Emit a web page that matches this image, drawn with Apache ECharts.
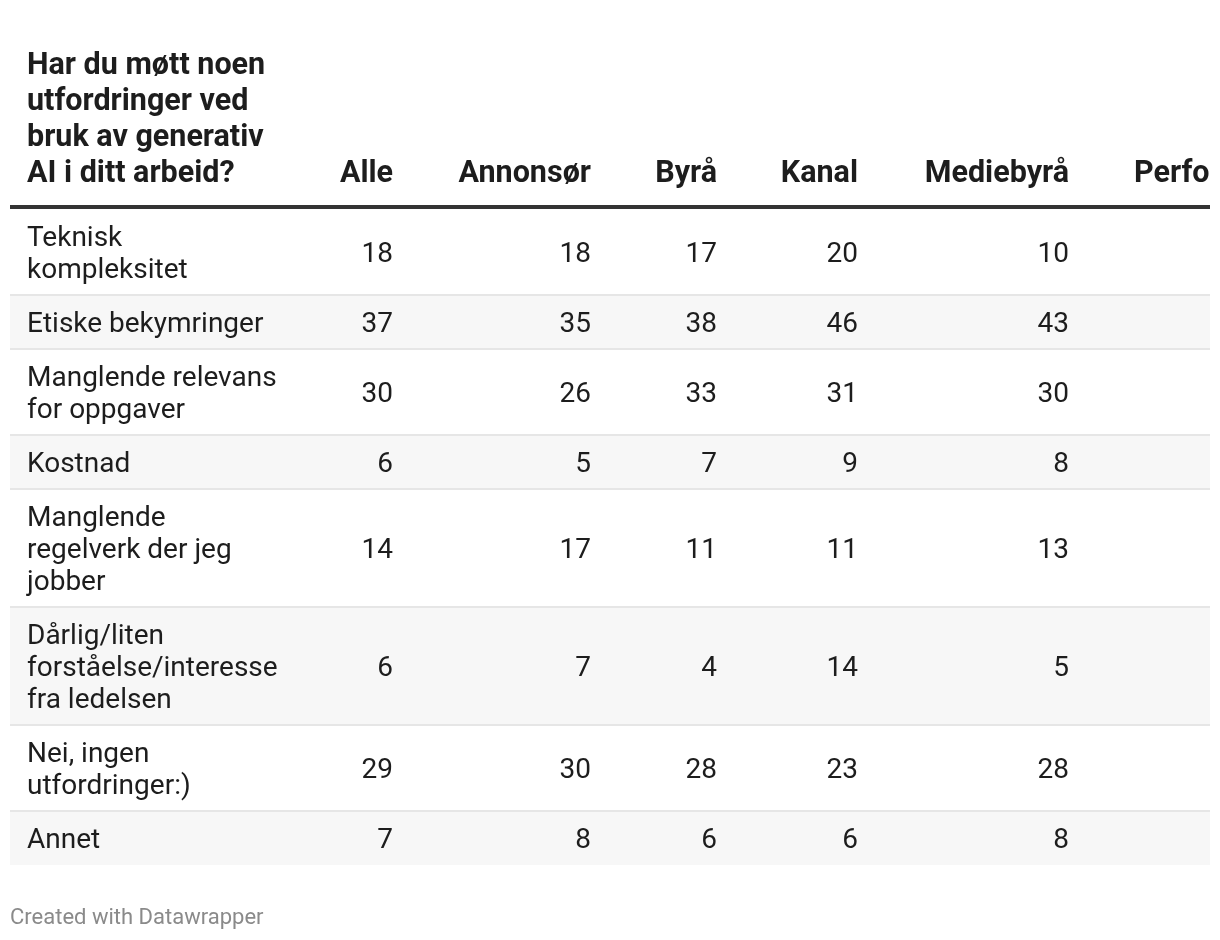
<!DOCTYPE html>
<html>
<head>
<meta charset="utf-8">
<script src="https://cdn.jsdelivr.net/npm/echarts@6/dist/echarts.min.js"></script>
<style>
html,body{margin:0;padding:0;background:#fff;}
#main{width:1220px;height:940px;}
</style>
</head>
<body>
<div id="main"></div>
<script>
// ---- data ----
const headerTitle = "Har du møtt noen\nutfordringer ved\nbruk av generativ\nAI i ditt arbeid?";
const columns = ["Alle", "Annonsør", "Byrå", "Kanal", "Mediebyrå", "Perfo"];
const categories = [
  "Teknisk\nkompleksitet",
  "Etiske bekymringer",
  "Manglende relevans\nfor oppgaver",
  "Kostnad",
  "Manglende\nregelverk der jeg\njobber",
  "Dårlig/liten\nforståelse/interesse\nfra ledelsen",
  "Nei, ingen\nutfordringer:)",
  "Annet"
];
const alle      = [18, 37, 30, 6, 14, 6, 29, 7];
const annonsor  = [18, 35, 26, 5, 17, 7, 30, 8];
const byra      = [17, 38, 33, 7, 11, 4, 28, 6];
const kanal     = [20, 46, 31, 9, 11, 14, 23, 6];
const mediebyra = [10, 43, 30, 8, 13, 5, 28, 8];
const footer = "Created with Datawrapper";

// ---- layout (not data) ----
const seriesVals = [alle, annonsor, byra, kanal, mediebyra];
const TABLE_W = 1200;
const colRight = [383, 581, 707, 848, 1059];
const perfoLeft = 1124;
const labelX = 17;
const headerH = 169;       // header area height (units = px)
const lineH = 32, rowPad = 22;
const TXT = '#1d1d1d';
const FONT = 'Roboto, "Noto Sans", sans-serif';
const BODY_FS = 28, HEAD_FS = 30.5;

// row extents derived from labels
const rowData = [];
let yCur = headerH;
categories.forEach((c, i) => {
  const n = c.split('\n').length;
  const h = rowPad + lineH * n;
  rowData.push([i, yCur, yCur + h]);
  yCur += h;
});
const totalH = yCur;

const chart = echarts.init(document.getElementById('main'), null, {renderer: 'canvas'});

function renderRow(params, api) {
  const i = api.value(0);
  const y0 = api.value(1), y1 = api.value(2);
  const tl = api.coord([0, y0]);
  const br = api.coord([TABLE_W, y1]);
  const w = br[0] - tl[0];
  const children = [];
  if (i % 2 === 1) {
    children.push({type: 'rect', shape: {x: tl[0], y: tl[1], width: w, height: br[1] - tl[1]}, style: {fill: '#f7f7f7'}});
  }
  if (i > 0) {
    children.push({type: 'rect', shape: {x: tl[0], y: tl[1] - 1, width: w, height: 2}, style: {fill: '#e6e6e6'}});
  }
  const cy = (tl[1] + br[1]) / 2 + 2.5;
  const lx = api.coord([labelX, y0])[0];
  children.push({type: 'text', style: {
    text: categories[i], x: lx, y: cy, align: 'left', verticalAlign: 'middle',
    fontSize: BODY_FS, fontFamily: FONT, lineHeight: lineH, fill: TXT
  }});
  seriesVals.forEach((arr, c) => {
    const p = api.coord([colRight[c], y0]);
    children.push({type: 'text', style: {
      text: String(arr[i]), x: p[0], y: cy, align: 'right', verticalAlign: 'middle',
      fontSize: BODY_FS, fontFamily: FONT, fill: TXT
    }});
  });
  return {type: 'group', children};
}

function renderHeader(params, api) {
  const children = [];
  const lineTop = api.coord([0, headerH - 4]);
  const lineBr = api.coord([TABLE_W, headerH]);
  children.push({type: 'rect', shape: {x: lineTop[0], y: lineTop[1], width: lineBr[0] - lineTop[0], height: lineBr[1] - lineTop[1]}, style: {fill: '#333333'}});
  const by = api.coord([0, headerH - 17])[1];
  const tx = api.coord([labelX, 0])[0];
  children.push({type: 'text', style: {
    text: headerTitle, x: tx, y: by, align: 'left', verticalAlign: 'bottom',
    fontSize: HEAD_FS, fontWeight: 'bold', fontFamily: FONT, lineHeight: 36, fill: TXT
  }});
  columns.forEach((name, c) => {
    const isLast = c >= colRight.length;
    const px = api.coord([isLast ? perfoLeft : colRight[c], 0])[0];
    children.push({type: 'text', style: {
      text: name, x: px, y: by, align: isLast ? 'left' : 'right', verticalAlign: 'bottom',
      fontSize: HEAD_FS, fontWeight: 'bold', fontFamily: FONT, lineHeight: 36, fill: TXT
    }});
  });
  return {type: 'group', children};
}

chart.setOption({
  animation: false,
  backgroundColor: '#ffffff',
  title: {
    text: footer, left: 10, top: 907, padding: 0,
    textStyle: {fontSize: 22, fontWeight: 'normal', color: '#8a8a8a', fontFamily: FONT}
  },
  grid: {left: 10, top: 40, width: TABLE_W, height: totalH},
  xAxis: {type: 'value', min: 0, max: TABLE_W, show: false},
  yAxis: {type: 'value', min: 0, max: totalH, inverse: true, show: false},
  series: [
    {type: 'custom', data: rowData, renderItem: renderRow, encode: {x: -1, y: [1, 2]}, silent: true},
    {type: 'custom', data: [[0, 0]], renderItem: renderHeader, encode: {x: -1, y: -1}, silent: true}
  ]
});
</script>
</body>
</html>
